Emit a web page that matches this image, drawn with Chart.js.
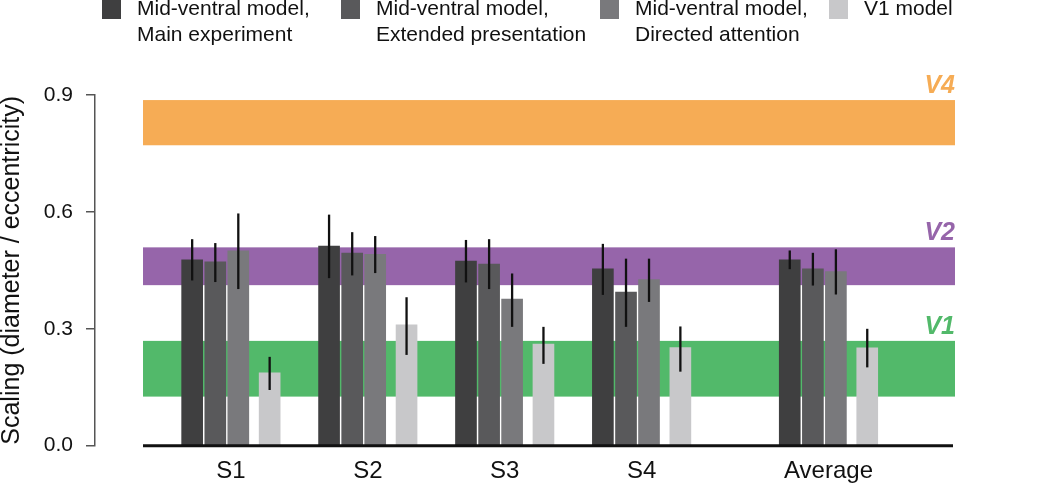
<!DOCTYPE html>
<html>
<head>
<meta charset="utf-8">
<script src="https://cdn.jsdelivr.net/npm/chart.js@4/dist/chart.umd.min.js"></script>
<style>
  body { margin: 0; background: #fff; }
</style>
</head>
<body>
<canvas id="scalingChart" width="1050" height="483"></canvas>
<script>
// data
const categories = ['S1', 'S2', 'S3', 'S4', 'Average'];
const yTicks = [0, 0.3, 0.6, 0.9];

const mainVals = [0.477, 0.512, 0.474, 0.454, 0.477];
const mainLo   = [0.424, 0.430, 0.419, 0.387, 0.453];
const mainHi   = [0.530, 0.593, 0.528, 0.518, 0.501];

const extVals = [0.472, 0.494, 0.466, 0.394, 0.454];
const extLo   = [0.420, 0.437, 0.402, 0.305, 0.411];
const extHi   = [0.520, 0.548, 0.530, 0.480, 0.495];

const attVals = [0.500, 0.491, 0.376, 0.426, 0.447];
const attLo   = [0.402, 0.443, 0.305, 0.369, 0.388];
const attHi   = [0.596, 0.538, 0.442, 0.480, 0.504];

const v1Vals = [0.187, 0.310, 0.261, 0.252, 0.251];
const v1Lo   = [0.143, 0.233, 0.210, 0.190, 0.201];
const v1Hi   = [0.228, 0.381, 0.305, 0.306, 0.300];

const bandNames = ['V1', 'V2', 'V4'];
const bandLo = [0.126, 0.412, 0.771];
const bandHi = [0.269, 0.509, 0.887];

// layout
const groupPos = [1, 2, 3, 4, 5.365];
const barOffset = [-0.283, -0.114, 0.054, 0.283];
const bandStart = 0.358, bandEnd = 6.289;
const bandColors = ['#52b96a', '#9665aa', '#f6ac55'];
const legendX = [102, 341, 600, 829];
const FONT = '"Liberation Sans", Arial, Helvetica, sans-serif';

function series(vals, k) {
  return vals.map((v, i) => ({ x: groupPos[i] + barOffset[k], y: v }));
}

const seriesDefs = [
  { label: ['Mid-ventral model,', 'Main experiment'], vals: mainVals, lo: mainLo, hi: mainHi, color: '#3f3f40' },
  { label: ['Mid-ventral model,', 'Extended presentation'], vals: extVals, lo: extLo, hi: extHi, color: '#59595b' },
  { label: ['Mid-ventral model,', 'Directed attention'], vals: attVals, lo: attLo, hi: attHi, color: '#79797c' },
  { label: ['V1 model'], vals: v1Vals, lo: v1Lo, hi: v1Hi, color: '#c8c8ca' }
];

const bandsPlugin = {
  id: 'bands',
  beforeDatasetsDraw(chart) {
    const ctx = chart.ctx, x = chart.scales.x, y = chart.scales.y;
    const x0 = x.getPixelForValue(bandStart), x1 = x.getPixelForValue(bandEnd);
    ctx.save();
    bandNames.forEach((name, i) => {
      const top = y.getPixelForValue(bandHi[i]);
      const bot = y.getPixelForValue(bandLo[i]);
      ctx.fillStyle = bandColors[i];
      ctx.fillRect(x0, top, x1 - x0, bot - top);
      ctx.font = 'italic bold 25px ' + FONT;
      ctx.textAlign = 'right';
      ctx.textBaseline = 'alphabetic';
      ctx.fillText(name, x1, top - 7);
    });
    ctx.restore();
  }
};

const errorBarsPlugin = {
  id: 'errorBars',
  afterDatasetsDraw(chart) {
    const ctx = chart.ctx, x = chart.scales.x, y = chart.scales.y;
    ctx.save();
    ctx.strokeStyle = '#111';
    ctx.lineWidth = 2.3;
    seriesDefs.forEach((s, d) => {
      chart.getDatasetMeta(d).data.forEach((bar, i) => {
        ctx.beginPath();
        ctx.moveTo(bar.x, y.getPixelForValue(s.hi[i]));
        ctx.lineTo(bar.x, y.getPixelForValue(s.lo[i]));
        ctx.stroke();
      });
    });
    // baseline
    const yb = y.getPixelForValue(0);
    ctx.lineWidth = 3;
    ctx.beginPath();
    ctx.moveTo(x.getPixelForValue(bandStart), yb);
    ctx.lineTo(x.getPixelForValue(bandEnd) - 2, yb);
    ctx.stroke();
    ctx.restore();
  }
};

const legendPlugin = {
  id: 'topLegend',
  afterDraw(chart) {
    const ctx = chart.ctx;
    ctx.save();
    ctx.font = '21px ' + FONT;
    ctx.textAlign = 'left';
    ctx.textBaseline = 'alphabetic';
    seriesDefs.forEach((s, i) => {
      ctx.fillStyle = s.color;
      ctx.fillRect(legendX[i], 0, 19, 19);
      ctx.fillStyle = '#111';
      s.label.forEach((line, j) => {
        ctx.fillText(line, legendX[i] + 35, 15 + j * 25.5);
      });
    });
    ctx.restore();
  }
};

new Chart(document.getElementById('scalingChart'), {
  type: 'bar',
  data: {
    datasets: seriesDefs.map((s, k) => ({
      label: s.label.join(' '),
      data: series(s.vals, k),
      backgroundColor: s.color,
      borderWidth: 0,
      barThickness: 21,
      grouped: false
    }))
  },
  options: {
    responsive: false,
    animation: false,
    layout: { padding: { top: 95, right: 95, left: 0, bottom: 0 } },
    plugins: {
      legend: { display: false },
      tooltip: { enabled: false }
    },
    scales: {
      x: {
        type: 'linear',
        offset: false,
        min: 0.0073,
        max: 6.289,
        grid: { display: false, offset: false },
        border: { display: false },
        afterBuildTicks: scale => { scale.ticks = groupPos.map(v => ({ value: v })); },
        afterFit: scale => { scale.height = 37.3; },
        ticks: {
          autoSkip: false,
          maxRotation: 0,
          padding: 3,
          color: '#111',
          font: { family: FONT, size: 24 },
          callback: (v, i) => categories[i]
        }
      },
      y: {
        min: 0,
        max: 0.9,
        afterBuildTicks: scale => { scale.ticks = yTicks.map(v => ({ value: v })); },
        afterFit: scale => { scale.width = 95; },
        grid: { display: true, drawOnChartArea: false, drawTicks: true, tickLength: 9, color: '#555', lineWidth: 1.5 },
        border: { display: true, color: '#555', width: 1.5 },
        ticks: {
          padding: 13,
          color: '#111',
          font: { family: FONT, size: 21 },
          callback: v => v.toFixed(1)
        },
        title: {
          display: true,
          text: 'Scaling (diameter / eccentricity)',
          color: '#111',
          padding: 0,
          font: { family: FONT, size: 25, lineHeight: 1 }
        }
      }
    }
  },
  plugins: [bandsPlugin, errorBarsPlugin, legendPlugin]
});
</script>
</body>
</html>
